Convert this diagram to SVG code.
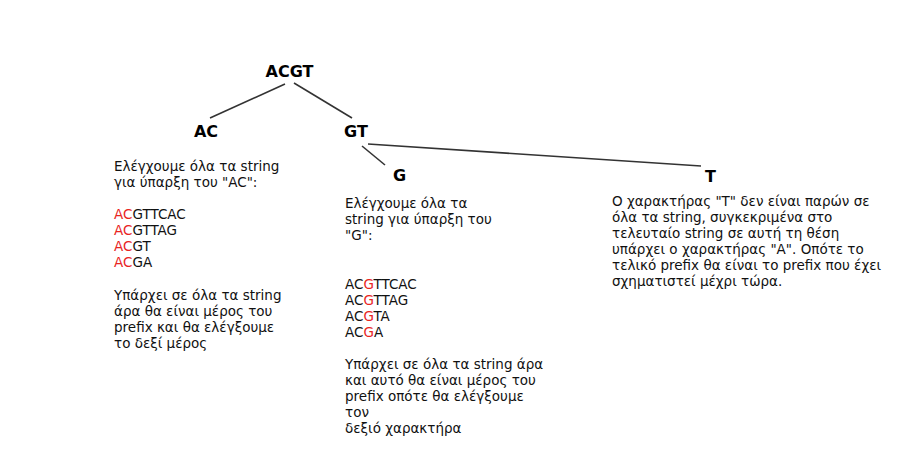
<svg xmlns="http://www.w3.org/2000/svg" width="918" height="464" viewBox="0 0 918 464">
<style>
.node{font-family:"DejaVu Sans",Verdana,sans-serif;font-size:16px;font-weight:bold;fill:#000;text-anchor:middle}
.txt{font-family:"DejaVu Sans",Verdana,sans-serif;font-size:13.5px;fill:#111}
.r{fill:#e8251f}
.edge{stroke:#333;stroke-width:1.6;fill:none}
</style>
<rect width="918" height="464" fill="#fff"/>
<g id="connectors">
<line class="edge" x1="285" y1="84" x2="210" y2="118"/>
<line class="edge" x1="294" y1="83" x2="352" y2="118"/>
<line class="edge" x1="362" y1="146" x2="385" y2="165"/>
<line class="edge" x1="368" y1="144" x2="701" y2="166"/>
</g>
<g id="node-ACGT"><text class="node" x="289.5" y="77">ACGT</text></g>
<g id="node-AC">
<text class="node" x="206" y="137">AC</text>
<text class="txt" x="114">
<tspan x="114" y="171">Ελέγχουμε όλα τα string</tspan>
<tspan x="114" y="187">για ύπαρξη του "AC":</tspan>
<tspan x="114" y="219"><tspan class="r">AC</tspan>GTTCAC</tspan>
<tspan x="114" y="235"><tspan class="r">AC</tspan>GTTAG</tspan>
<tspan x="114" y="251"><tspan class="r">AC</tspan>GT</tspan>
<tspan x="114" y="267"><tspan class="r">AC</tspan>GA</tspan>
<tspan x="114" y="300">Υπάρχει σε όλα τα string</tspan>
<tspan x="114" y="316">άρα θα είναι μέρος του</tspan>
<tspan x="114" y="332">prefix και θα ελέγξουμε</tspan>
<tspan x="114" y="348">το δεξί μέρος</tspan>
</text>
</g>
<g id="node-GT"><text class="node" x="356" y="137">GT</text></g>
<g id="node-G">
<text class="node" x="399.5" y="181">G</text>
<text class="txt" x="345">
<tspan x="345" y="208">Ελέγχουμε όλα τα</tspan>
<tspan x="345" y="224">string για ύπαρξη του</tspan>
<tspan x="345" y="240">"G":</tspan>
<tspan x="345" y="289">AC<tspan class="r">G</tspan>TTCAC</tspan>
<tspan x="345" y="305">AC<tspan class="r">G</tspan>TTAG</tspan>
<tspan x="345" y="321">AC<tspan class="r">G</tspan>TA</tspan>
<tspan x="345" y="337">AC<tspan class="r">G</tspan>A</tspan>
<tspan x="345" y="369">Υπάρχει σε όλα τα string άρα</tspan>
<tspan x="345" y="385">και αυτό θα είναι μέρος του</tspan>
<tspan x="345" y="401">prefix οπότε θα ελέγξουμε</tspan>
<tspan x="345" y="417">τον</tspan>
<tspan x="345" y="433">δεξιό χαρακτήρα</tspan>
</text>
</g>
<g id="node-T">
<text class="node" x="710.5" y="182">T</text>
<text class="txt" x="612">
<tspan x="612" y="206">Ο χαρακτήρας "T" δεν είναι παρών σε</tspan>
<tspan x="612" y="222">όλα τα string, συγκεκριμένα στο</tspan>
<tspan x="612" y="238">τελευταίο string σε αυτή τη θέση</tspan>
<tspan x="612" y="254">υπάρχει ο χαρακτήρας "A". Οπότε το</tspan>
<tspan x="612" y="270">τελικό prefix θα είναι το prefix που έχει</tspan>
<tspan x="612" y="286">σχηματιστεί μέχρι τώρα.</tspan>
</text>
</g>
</svg>
